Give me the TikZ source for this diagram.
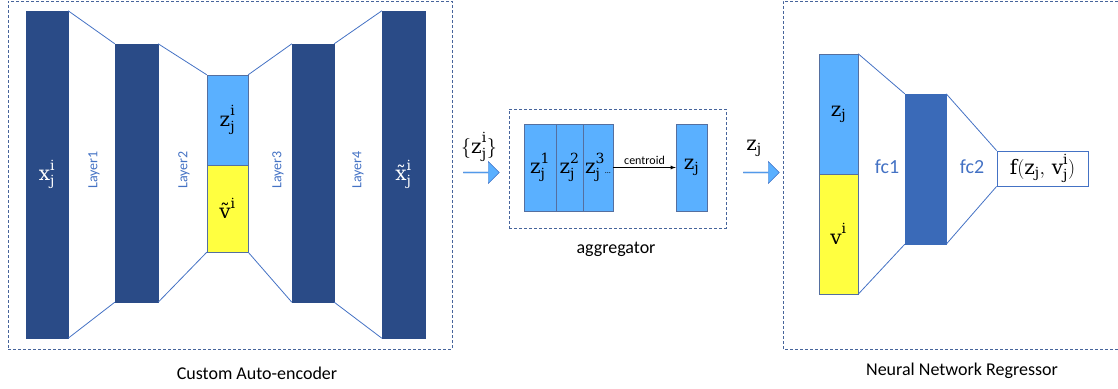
\RequirePackage{fix-cm}
\documentclass[tikz,border=0pt]{standalone}
\usepackage[no-math]{fontspec}
\setmainfont{Carlito}
\newfontfamily\dvserif{DejaVu Serif}[NFSSFamily=dvs]
\DeclareMathAlphabet{\mathdv}{TU}{dvs}{m}{n}
\newcommand\tildex{\hbox{\dvserif x̃}}
\newcommand\tildev{\hbox{\dvserif ṽ}}
\usetikzlibrary{shapes.arrows}

\definecolor{navy}{RGB}{42,75,135}
\definecolor{fcblue}{RGB}{58,106,184}
\definecolor{zblue}{RGB}{90,176,255}
\definecolor{vyellow}{RGB}{255,255,64}
\definecolor{edgeblue}{RGB}{68,114,196}
\definecolor{framegray}{RGB}{70,100,155}

\tikzset{
    layer/.style={draw=navy, fill=navy, text=white, inner sep=0pt, font=\fontsize{20}{24}\selectfont},
    zbox/.style={draw=navy!80, fill=zblue, inner sep=0pt, font=\fontsize{20}{24}\selectfont},
    vbox/.style={draw=navy!80, fill=vyellow, inner sep=0pt, font=\fontsize{20}{24}\selectfont},
    link/.style={draw=edgeblue, line width=0.8pt},
    laylabel/.style={text=edgeblue, rotate=90, font=\fontsize{14}{16}\selectfont},
    fclabel/.style={text=edgeblue, font=\fontsize{20}{24}\selectfont},
    caption/.style={font=\fontsize{18}{22}\selectfont},
    frame/.style={draw=framegray, line width=0.8pt, dash pattern=on 3pt off 2pt},
    blockarrow/.style={single arrow, draw=edgeblue, fill=zblue, inner sep=0pt,
        minimum height=36pt, minimum width=22pt, single arrow head extend=4pt}
}

\begin{document}
\begin{tikzpicture}[x=1pt, y=-1pt]
    \useasboundingbox (0,0) rectangle (1118,388);

    % Auto-encoder
    \node[frame, minimum width=444pt, minimum height=348pt, inner sep=0pt] (aeframe) at (230,175) {};
    \node[layer, minimum width=42pt, minimum height=327pt] (in) at (47,174.5) {$\mathdv{x}^{\mathdv{i}}_{\mathdv{j}}$};
    \node[layer, minimum width=43pt, minimum height=258pt] (l1) at (136.5,173) {};
    \node[zbox, minimum width=41pt, minimum height=90pt] (zcode) at (227.5,120) {$\mathdv{z}^{\mathdv{i}}_{\mathdv{j}}$};
    \node[vbox, minimum width=41pt, minimum height=87pt] (vcode) at (227.5,208.5) {$\tildev^{\mathdv{i}}$};
    \node[layer, minimum width=42pt, minimum height=258pt] (l3) at (313,173) {};
    \node[layer, minimum width=43pt, minimum height=327pt] (out) at (403.5,174.5) {$\tildex^{\mathdv{i}}_{\mathdv{j}}$};

    \draw[link] (in.north east) -- (l1.north west);
    \draw[link] (in.south east) -- (l1.south west);
    \draw[link] (l1.north east) -- (zcode.north west);
    \draw[link] (l1.south east) -- (vcode.south west);
    \draw[link] (zcode.north east) -- (l3.north west);
    \draw[link] (vcode.south east) -- (l3.south west);
    \draw[link] (l3.north east) -- (out.north west);
    \draw[link] (l3.south east) -- (out.south west);

    \node[laylabel] (lab1) at (94,170) {Layer1};
    \node[laylabel] (lab2) at (184,170) {Layer2};
    \node[laylabel] (lab3) at (278,170) {Layer3};
    \node[laylabel] (lab4) at (358,170) {Layer4};

    \node[caption] (aecap) at (257,373) {Custom Auto-encoder};

    % Aggregator
    \node[blockarrow] (arr1) at (481,172.5) {};
    \node[font=\fontsize{20}{24}\selectfont] (zset) at (479,147) {$\{\mathdv{z}^{\mathdv{i}}_{\mathdv{j}}\}$};

    \node[frame, minimum width=217pt, minimum height=119pt, inner sep=0pt] (agframe) at (617.5,168.5) {};
    \node[zbox, minimum width=32pt, minimum height=87pt] (a1) at (540,167.5) {$\mathdv{z}^{\mathdv{1}}_{\mathdv{j}}$};
    \node[zbox, minimum width=27pt, minimum height=87pt] (a2) at (569.5,167.5) {$\mathdv{z}^{\mathdv{2}}_{\mathdv{j}}$};
    \node[zbox, minimum width=30pt, minimum height=87pt] (a3) at (598,167.5) {$\mathdv{z}^{\mathdv{3}}_{\mathdv{j}}${\fontsize{8}{9}\selectfont...}};
    \node[zbox, minimum width=31pt, minimum height=87pt] (zc) at (691.5,167.5) {$\mathdv{z}_{\mathdv{j}}$};
    \draw[-latex, line width=0.8pt] (a3) -- node[above=-1pt, font=\fontsize{12}{14}\selectfont] {centroid} (zc);

    \node[caption] (agcap) at (616,249) {aggregator};

    \node[blockarrow] (arr2) at (761,172.5) {};
    \node[font=\fontsize{20}{24}\selectfont] (zout) at (754,148) {$\mathdv{z}_{\mathdv{j}}$};

    % Regressor
    \draw[frame] (1118,1) -- (783,1) -- (783,349) -- (1118,349);
    \node[zbox, minimum width=39pt, minimum height=120pt] (rz) at (838.5,114) {$\mathdv{z}_{\mathdv{j}}$};
    \node[vbox, minimum width=39pt, minimum height=120pt] (rv) at (838.5,234) {$\mathdv{v}^{\mathdv{i}}$};
    \node[layer, draw=fcblue, fill=fcblue, minimum width=41pt, minimum height=150pt] (fc) at (925.5,169) {};
    \node[draw=edgeblue, line width=0.8pt, minimum width=91pt, minimum height=35pt, inner sep=0pt,
        font=\fontsize{20}{24}\selectfont] (fout) at (1042.5,168.5) {$\mathdv{f}(\mathdv{z}_{\mathdv{j}},\,\mathdv{v}^{\mathdv{i}}_{\mathdv{j}})$};

    \draw[link] (rz.north east) -- (fc.north west);
    \draw[link] (rv.south east) -- (fc.south west);
    \draw[link] (fc.north east) -- (fout.north west);
    \draw[link] (fc.south east) -- (fout.south west);

    \node[fclabel] (fc1) at (887,167) {fc1};
    \node[fclabel] (fc2) at (972,167) {fc2};

    \node[caption] (nncap) at (962,371) {Neural Network Regressor};
\end{tikzpicture}
\end{document}
